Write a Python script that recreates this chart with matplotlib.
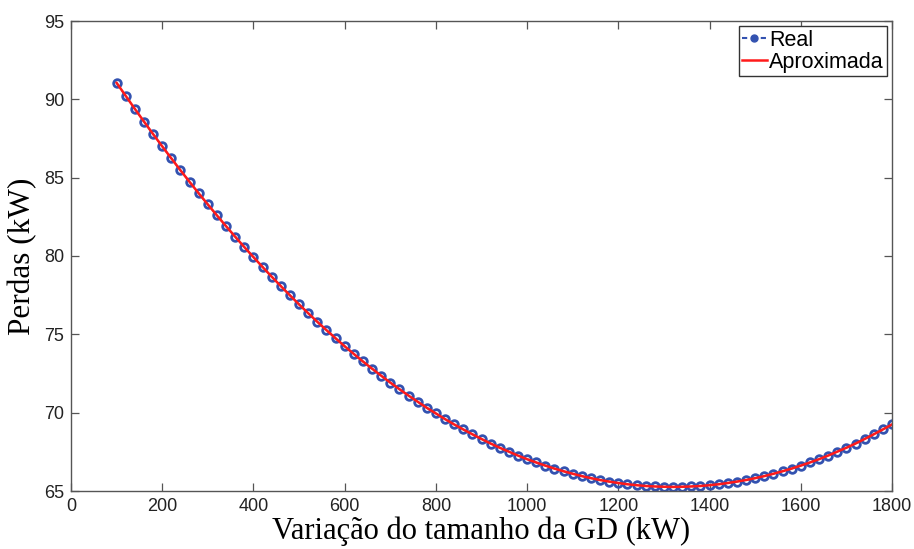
import matplotlib
matplotlib.use("Agg")
import matplotlib.pyplot as plt
from matplotlib.lines import Line2D

x_kw = list(range(100, 1801, 20))
perdas_real = [
    91.05, 90.22, 89.39, 88.58, 87.78, 87.00, 86.23, 85.47, 84.73, 84.00,
    83.29, 82.59, 81.90, 81.23, 80.57, 79.93, 79.30, 78.68, 78.08, 77.49,
    76.91, 76.35, 75.80, 75.27, 74.75, 74.24, 73.75, 73.27, 72.81, 72.36,
    71.92, 71.50, 71.09, 70.70, 70.31, 69.95, 69.59, 69.25, 68.93, 68.62,
    68.32, 68.03, 67.76, 67.51, 67.26, 67.03, 66.82, 66.62, 66.43, 66.26,
    66.10, 65.95, 65.82, 65.70, 65.60, 65.51, 65.43, 65.37, 65.32, 65.29,
    65.27, 65.26, 65.27, 65.29, 65.32, 65.37, 65.43, 65.51, 65.60, 65.70,
    65.82, 65.95, 66.10, 66.26, 66.43, 66.62, 66.82, 67.03, 67.26, 67.51,
    67.76, 68.03, 68.32, 68.62, 68.93, 69.25,
]
perdas_aprox = list(perdas_real)

x_ticks = [0, 200, 400, 600, 800, 1000, 1200, 1400, 1600, 1800]
y_ticks = [65, 70, 75, 80, 85, 90, 95]

blue = '#3352b0'
red = '#ff1a1a'

fig = plt.figure(figsize=(9.14, 5.49), dpi=100)
ax = fig.add_axes([71/914, 1-491/549, (892-71)/914, (491-21)/549])

ax.plot(x_kw, perdas_real, linestyle='--', color=blue, marker='o',
        markersize=5.5, markerfacecolor='none', markeredgewidth=2.0,
        linewidth=1.2)
ax.plot(x_kw, perdas_aprox, color=red, linewidth=1.8)

ax.set_xlim(0, 1800)
ax.set_ylim(65, 95)
ax.set_xticks(x_ticks)
ax.set_yticks(y_ticks)

for lab in ax.get_xticklabels() + ax.get_yticklabels():
    lab.set_fontfamily('Liberation Sans')
    lab.set_fontsize(13)
    lab.set_color('#222222')

ax.tick_params(direction='in', length=6, width=0.9, top=True, right=True,
               color='#555555', pad=5)
for s in ax.spines.values():
    s.set_color('#555555')
    s.set_linewidth(1.0)

ax.set_xlabel('Variação do tamanho da GD (kW)', family='Liberation Serif',
              fontsize=22, labelpad=1)
ax.set_ylabel('Perdas (kW)', family='Liberation Serif', fontsize=22.5, labelpad=5)

h_real = Line2D([], [], linestyle='--', color=blue, marker='o', markersize=5,
                markerfacecolor=blue, linewidth=1.5, dashes=(2.5, 2))
h_aprox = Line2D([], [], color=red, linewidth=1.8)
leg = ax.legend([h_real, h_aprox], ['Real', 'Aproximada'], loc='upper right',
                prop={'family': 'Liberation Sans', 'size': 15.5},
                fancybox=False, framealpha=1, edgecolor='#333333',
                borderpad=0.15, handlelength=1.15, handletextpad=0.1,
                labelspacing=0.05, borderaxespad=0.25)
leg.get_frame().set_linewidth(1.0)

fig.savefig('out.png', dpi=100)
